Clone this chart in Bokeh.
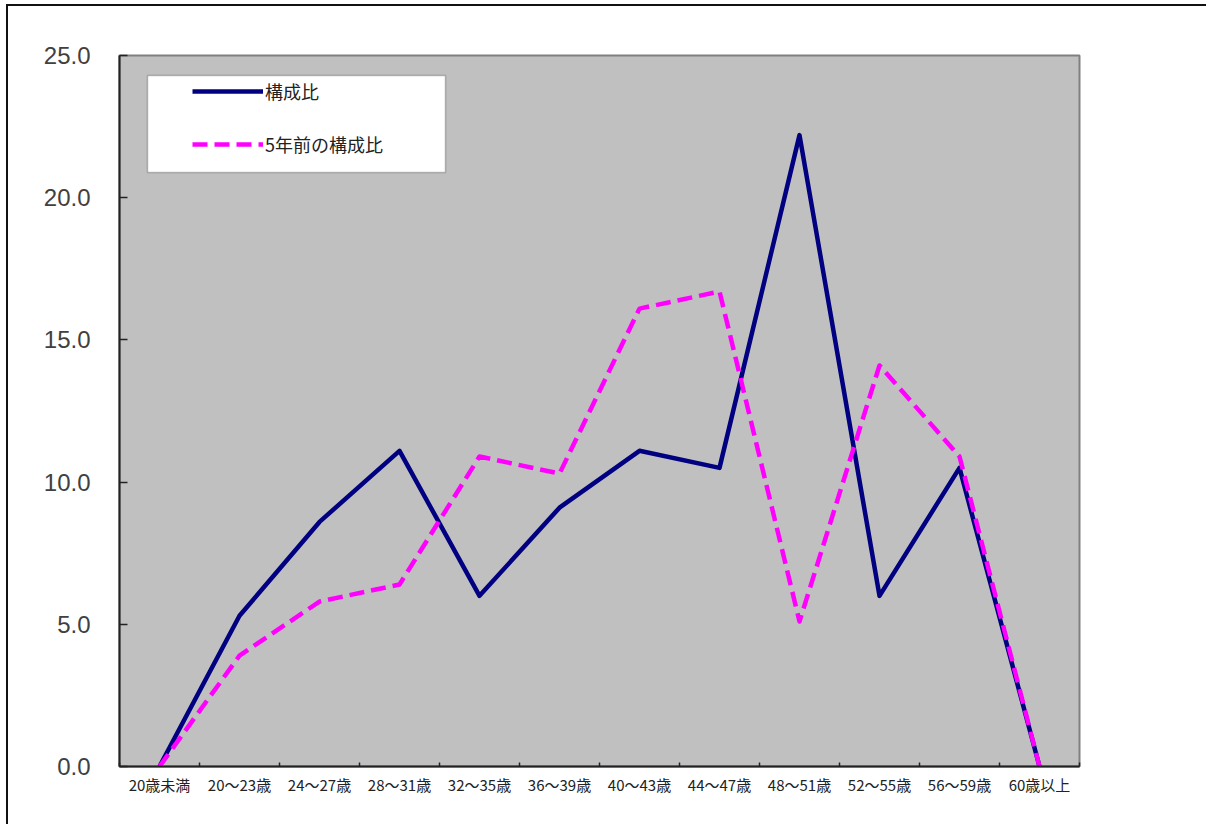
import numpy as np
from bokeh.plotting import figure
from bokeh.models import (Range1d, FixedTicker, NumeralTickFormatter, Legend,
                          LegendItem, BoxAnnotation)
from bokeh.embed import file_html
from bokeh.resources import INLINE

# ---- data ----
categories = ["20歳未満", "20～23歳", "24～27歳", "28～31歳", "32～35歳", "36～39歳",
              "40～43歳", "44～47歳", "48～51歳", "52～55歳", "56～59歳", "60歳以上"]
ratio_now = [0.0, 5.3, 8.6, 11.1, 6.0, 9.1, 11.1, 10.5, 22.2, 6.0, 10.5, 0.0]
ratio_5y = [0.0, 3.9, 5.8, 6.4, 10.9, 10.3, 16.1, 16.7, 5.1, 14.1, 10.9, 0.0]
y_ticks = [0, 5, 10, 15, 20, 25]
series_names = ["構成比", "5年前の構成比"]

xpos = list(range(len(categories)))
bounds = [i - 0.5 for i in range(len(categories) + 1)]

p = figure(width=1200, height=820, output_backend="svg", toolbar_location=None,
           x_range=Range1d(-0.5, len(categories) - 0.5), y_range=Range1d(0, 25),
           min_border_left=111, min_border_top=49, min_border_right=129,
           min_border_bottom=60)
p.margin = (4, 0, 0, 6)
p.styles = {"border-left": "2px solid #111", "border-top": "2px solid #111"}

p.background_fill_color = "#C0C0C0"
p.border_fill_color = "white"
p.outline_line_color = "#808080"
p.outline_line_width = 2
p.xgrid.visible = False
p.ygrid.visible = False

# x axis
xa = p.xaxis[0]
xa.ticker = FixedTicker(ticks=xpos, minor_ticks=bounds)
xa.major_label_overrides = {i: c for i, c in zip(xpos, categories)}
xa.major_tick_in = 0
xa.major_tick_out = 0
xa.minor_tick_in = 4
xa.minor_tick_out = 0
xa.minor_tick_line_color = "#222222"
xa.minor_tick_line_width = 1.5
xa.axis_line_color = "#222222"
xa.axis_line_width = 2
xa.major_label_text_font = "Noto Sans CJK JP"
xa.major_label_text_font_size = "15px"
xa.major_label_text_color = "#222222"
xa.major_label_standoff = 7

# y axis
ya = p.yaxis[0]
ya.ticker = FixedTicker(ticks=y_ticks, minor_ticks=[])
ya.formatter = NumeralTickFormatter(format="0.0")
ya.major_tick_in = 8
ya.major_tick_out = 0
ya.major_tick_line_color = "#222222"
ya.major_tick_line_width = 1.5
ya.axis_line_color = "#222222"
ya.axis_line_width = 2
ya.major_label_text_font = "Liberation Sans"
ya.major_label_text_font_size = "24px"
ya.major_label_text_color = "#404040"
ya.major_label_standoff = 29

# legend box
p.add_layout(BoxAnnotation(left=0.35 - 0.5, right=4.075 - 0.5, top=24.30, bottom=20.89,
                           fill_color="white", fill_alpha=1.0,
                           line_color="#333333", line_width=1.5, level="annotation"))

r1 = p.line(xpos, ratio_now, line_color="#000080", line_width=4.5, line_join="round")
r2 = p.line(xpos, ratio_5y, line_color="#FF00FF", line_width=4.5, line_dash="15 7",
            line_join="round")

legend = Legend(items=[LegendItem(label=series_names[0], renderers=[r1]),
                       LegendItem(label=series_names[1], renderers=[r2])],
                location=(73, 609), padding=0, spacing=27, glyph_width=71,
                glyph_height=20, label_standoff=2, border_line_color=None,
                background_fill_alpha=0.0, label_text_font="Noto Sans CJK JP",
                label_text_font_size="18px", label_text_color="#222222")
p.add_layout(legend)

open("out.html", "w").write(file_html(p, INLINE))
